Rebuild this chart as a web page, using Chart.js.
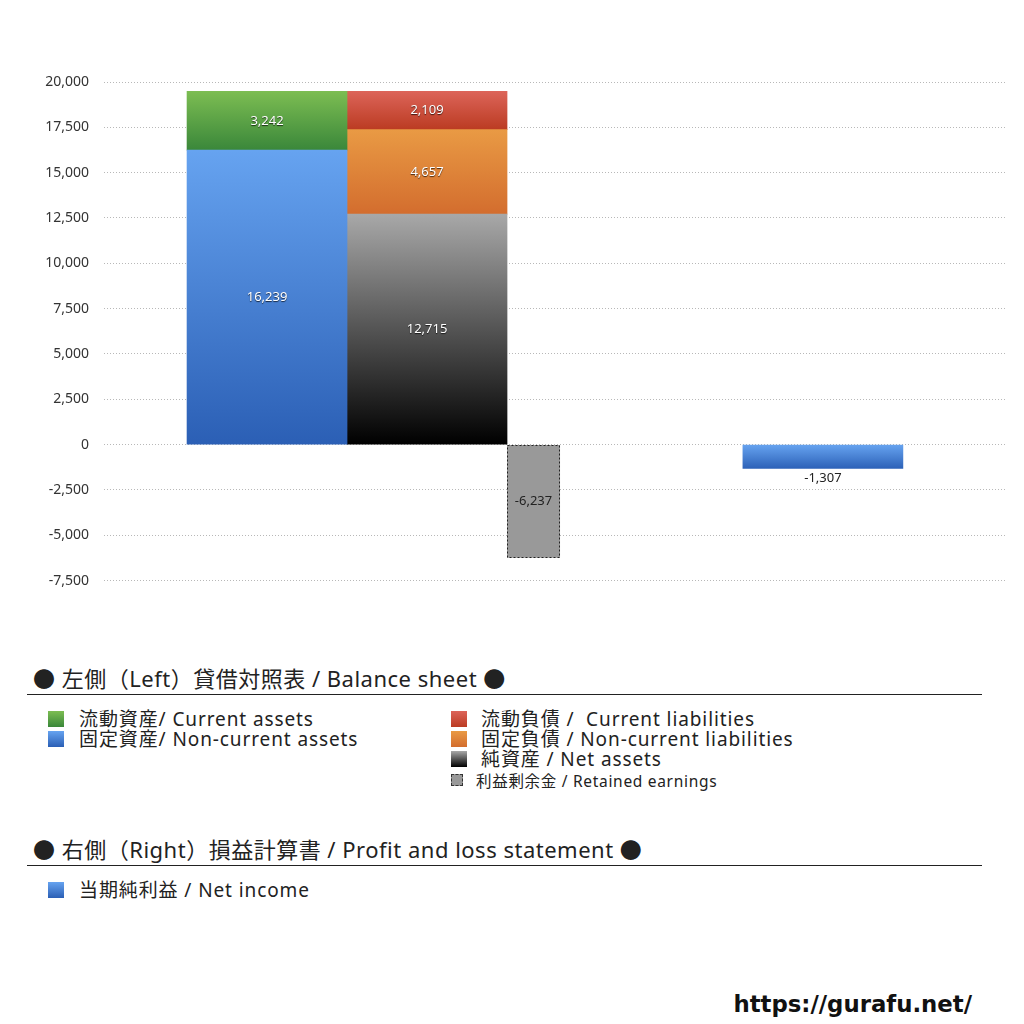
<!DOCTYPE html>
<html lang="ja">
<head>
  <meta charset="UTF-8">
  <meta name="viewport" content="width=device-width, initial-scale=1.0">
  <title>貸借対照表 / 損益計算書</title>
  <script src="https://cdn.jsdelivr.net/npm/chart.js"></script>
  <style>
    body { margin: 0; background: #fff; color: #222; font-family: "Noto Sans", "Noto Sans CJK JP", sans-serif; }
    #wrap { position: relative; width: 1024px; height: 1024px; overflow: hidden; }
    #chartBox { position: absolute; left: 0; top: 0; width: 1024px; height: 604px; }
    .title { position: absolute; left: 33px; font-size: 22px; line-height: 30px; white-space: nowrap; letter-spacing: 0.5px; }
    .rule { position: absolute; left: 27px; width: 955px; border-top: 1px solid #222; }
    .item { position: absolute; font-size: 19px; line-height: 20px; white-space: nowrap; padding-left: 31px; letter-spacing: 0.9px; }
    .item .sw { position: absolute; left: 0; top: 2px; width: 16px; height: 16px; }
    .item.small { font-size: 15.5px; line-height: 16px; padding-left: 25px; letter-spacing: 0.7px; }
    .item.small .sw { top: 1px; width: 10px; height: 10px; background: #999; border: 1px dashed #333; }
    #url { position: absolute; right: 52px; top: 990px; font-family: "DejaVu Sans", sans-serif; font-weight: 700; font-size: 22.8px; line-height: 28px; color: #111; }
  </style>
</head>
<body>
<div id="wrap">
  <div id="chartBox"><canvas id="chart"></canvas></div>

  <!-- 凡例 -->
  <div class="title" style="top:663px">● 左側（Left）貸借対照表 / Balance sheet ●</div>
  <div class="rule" style="top:694px"></div>
  <div class="item" style="left:48px; top:709px"><span class="sw" style="background:linear-gradient(#7cbd52,#3a873a)"></span>流動資産/ Current assets</div>
  <div class="item" style="left:48px; top:729px"><span class="sw" style="background:linear-gradient(#66a3f0,#2b5fb5)"></span>固定資産/ Non-current assets</div>
  <div class="item" style="left:451px; top:709px; padding-left:30px"><span class="sw" style="background:linear-gradient(#dc6459,#bb3b22)"></span>流動負債 /&nbsp; Current liabilities</div>
  <div class="item" style="left:451px; top:729px; padding-left:30px"><span class="sw" style="background:linear-gradient(#e99a44,#d36d2e)"></span>固定負債 / Non-current liabilities</div>
  <div class="item" style="left:451px; top:749px; padding-left:30px"><span class="sw" style="background:linear-gradient(#a8a8a8,#000)"></span>純資産 / Net assets</div>
  <div class="item small" style="left:451px; top:773px"><span class="sw"></span>利益剰余金 / Retained earnings</div>

  <div class="title" style="top:834px">● 右側（Right）損益計算書 / Profit and loss statement ●</div>
  <div class="rule" style="top:865px"></div>
  <div class="item" style="left:48px; top:880px"><span class="sw" style="background:linear-gradient(#66a3f0,#2b5fb5)"></span>当期純利益 / Net income</div>

  <div id="url">https://gurafu.net/</div>
</div>

<script>
  // データ（左 = 貸借対照表, 右 = 損益計算書）
  const categories = ['貸借対照表', '損益計算書'];
  const nonCurrentAssets = [16239, null];
  const currentAssets = [3242, null];
  const netAssets = [12715, null];
  const nonCurrentLiabilities = [4657, null];
  const currentLiabilities = [2109, null];
  const retainedEarnings = [-6237, null];
  const netIncome = [null, -1307];

  const yMin = -7500;
  const yMax = 20000;
  const yStep = 2500;

  const pts = arr => arr.map((y, i) => ({ x: i, y: y }));

  // 積み上げの下端と上端を求める（グラデーション用）
  function barRange(chart, di, i) {
    const ds = chart.data.datasets;
    const v = ds[di].data[i].y;
    let base = 0;
    for (let k = 0; k < di; k++) {
      if (ds[k].stack !== ds[di].stack) continue;
      const w = ds[k].data[i].y;
      if (w !== null && Math.sign(w) === Math.sign(v)) base += w;
    }
    return [base, base + v];
  }

  function fill(top, bottom) {
    return c => {
      const chart = c.chart;
      if (!chart.chartArea || c.type !== 'data') return bottom;
      const v = chart.data.datasets[c.datasetIndex].data[c.dataIndex].y;
      if (v === null) return bottom;
      const r = barRange(chart, c.datasetIndex, c.dataIndex);
      const y = chart.scales.y;
      const g = chart.ctx.createLinearGradient(0, y.getPixelForValue(Math.max(r[0], r[1])), 0, y.getPixelForValue(Math.min(r[0], r[1])));
      g.addColorStop(0, top);
      g.addColorStop(1, bottom);
      return g;
    };
  }

  // 値ラベルと点線の枠
  const valueLabels = {
    id: 'valueLabels',
    afterDatasetsDraw(chart) {
      const ctx = chart.ctx;
      ctx.save();
      ctx.font = '13px "Noto Sans", "Noto Sans CJK JP", sans-serif';
      ctx.textAlign = 'center';
      ctx.textBaseline = 'middle';
      chart.data.datasets.forEach((ds, di) => {
        const meta = chart.getDatasetMeta(di);
        meta.data.forEach((bar, i) => {
          const v = ds.data[i].y;
          if (v === null) return;
          const top = Math.min(bar.y, bar.base), bottom = Math.max(bar.y, bar.base);
          if (ds.dashed) {
            ctx.save();
            ctx.strokeStyle = '#222';
            ctx.lineWidth = 1;
            ctx.setLineDash([2, 2]);
            ctx.strokeRect(Math.round(bar.x - bar.width / 2) + 0.5, Math.round(top) + 0.5, Math.round(bar.width) - 1, Math.round(bottom - top) - 1);
            ctx.restore();
          }
          let x = bar.x, y = (top + bottom) / 2;
          if (ds.labelBelow) y = bottom + 10;
          ctx.save();
          if (ds.labelColor === '#fff') {
            ctx.shadowColor = 'rgba(0,0,0,0.7)';
            ctx.shadowOffsetY = 1;
            ctx.shadowBlur = 1;
          }
          ctx.fillStyle = ds.labelColor;
          ctx.fillText(v.toLocaleString('en-US'), x, y);
          ctx.restore();
        });
      });
      ctx.restore();
    }
  };

  new Chart(document.getElementById('chart'), {
    type: 'bar',
    data: {
      labels: categories,
      datasets: [
        { label: '固定資産/ Non-current assets', data: pts(nonCurrentAssets), stack: 'assets', barThickness: 160,
          backgroundColor: fill('#66a3f0', '#2b5fb5'), labelColor: '#fff' },
        { label: '流動資産/ Current assets', data: pts(currentAssets), stack: 'assets', barThickness: 160,
          backgroundColor: fill('#7cbd52', '#3a873a'), labelColor: '#fff' },
        { label: '純資産 / Net assets', data: pts(netAssets), stack: 'liab', barThickness: 160,
          backgroundColor: fill('#a8a8a8', '#000000'), labelColor: '#fff' },
        { label: '固定負債 / Non-current liabilities', data: pts(nonCurrentLiabilities), stack: 'liab', barThickness: 160,
          backgroundColor: fill('#e99a44', '#d36d2e'), labelColor: '#fff' },
        { label: '流動負債 / Current liabilities', data: pts(currentLiabilities), stack: 'liab', barThickness: 160,
          backgroundColor: fill('#dc6459', '#bb3b22'), labelColor: '#fff' },
        { label: '利益剰余金 / Retained earnings', data: pts(retainedEarnings), stack: 'retained',
          categoryPercentage: 0.807, barPercentage: 0.498,
          backgroundColor: '#999999', dashed: true, labelColor: '#222' },
        { label: '当期純利益 / Net income', data: pts(netIncome), stack: 'pl', barThickness: 160,
          backgroundColor: fill('#66a3f0', '#2d62b8'), labelColor: '#222', labelBelow: true }
      ]
    },
    options: {
      responsive: true,
      maintainAspectRatio: false,
      animation: false,
      datasets: { bar: { skipNull: true, grouped: true, borderWidth: 0 } },
      layout: { padding: { left: 0, right: 19, top: 82, bottom: 14 } },
      plugins: { legend: { display: false }, tooltip: { enabled: false } },
      scales: {
        x: {
          type: 'linear',
          display: false,
          offset: false,
          // 左の列を中央より左に、右の列を右側に置く
          min: -0.816,
          max: 1.46,
          afterBuildTicks: s => { s.ticks = categories.map((c, i) => ({ value: i })); }
        },
        y: {
          stacked: true,
          min: yMin,
          max: yMax,
          afterFit: s => { s.width = 104; },
          ticks: {
            stepSize: yStep,
            padding: 15,
            color: '#333',
            font: { family: '"Noto Sans", "Noto Sans CJK JP", sans-serif', size: 14 },
            callback: v => v.toLocaleString('en-US')
          },
          grid: { color: '#b8b8b8', drawTicks: false },
          border: { display: false, dash: [1, 2] }
        }
      }
    },
    plugins: [valueLabels]
  });
</script>
</body>
</html>
